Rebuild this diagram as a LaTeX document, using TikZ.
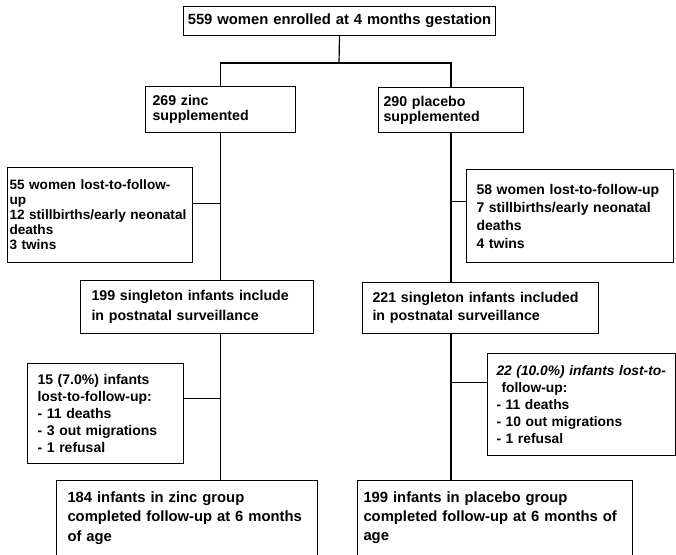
\documentclass[tikz,border=0pt]{standalone}
\usepackage{fontspec}
\setmainfont{Liberation Sans}
\tikzset{
  box/.style={draw, line width=1pt, anchor=north west, align=left, inner ysep=0pt,
    execute at begin node={\hyphenpenalty=10000\relax},
    font=\bfseries\fontsize{14.2}{17}\selectfont},
  link/.style={line width=1.2pt},
}

\begin{document}
\begin{tikzpicture}[x=1pt,y=-1pt]
    \useasboundingbox (0,0) rectangle (676,554);
    % randomisation
    \node[box, align=center, minimum width=312pt, minimum height=29pt, inner xsep=1pt, text width=310pt,
      font=\bfseries\fontsize{14.8}{17}\selectfont] (enrol) at (183,6)
      {559 women enrolled at 4 months gestation};
    \node[box, minimum width=150pt, minimum height=46pt, inner xsep=7pt, text width=136pt,
      font=\bfseries\fontsize{14.2}{15}\selectfont] (zinc) at (145,86)
      {269 zinc\\supplemented};
    \node[box, minimum width=145pt, minimum height=45pt, inner xsep=5pt, text width=135pt,
      font=\bfseries\fontsize{14.2}{15}\selectfont] (placebo) at (378,87)
      {290 placebo\\supplemented};
    % losses in pregnancy
    \node[box, minimum width=185pt, minimum height=95pt, inner xsep=2pt, text width=181pt,
      font=\bfseries\fontsize{13.6}{15}\selectfont] (lost55) at (7,167)
      {55 women lost-to-follow-\\up\\12 stillbirths/early neonatal\\deaths\\3 twins};
    \node[box, minimum width=207pt, minimum height=93pt, inner xsep=10pt, text width=187pt,
      font=\bfseries\fontsize{14}{18}\selectfont] (lost58) at (466,169)
      {58 women lost-to-follow-up\\7 stillbirths/early neonatal\\deaths\\4 twins};
    % singletons
    \node[box, minimum width=233pt, minimum height=53pt, inner xsep=11pt, text width=211pt,
      font=\bfseries\fontsize{14.2}{20}\selectfont] (sing199) at (80,280)
      {199 singleton infants include\\in postnatal surveillance};
    \node[box, minimum width=236pt, minimum height=51pt, inner xsep=10pt, text width=216pt,
      font=\bfseries\fontsize{14.2}{18}\selectfont] (sing221) at (362,282)
      {221 singleton infants included\\in postnatal surveillance};
    % losses in infancy
    \node[box, minimum width=156pt, minimum height=100pt, inner xsep=10pt, text width=136pt,
      font=\bfseries\fontsize{14}{17}\selectfont] (lost15) at (27,363)
      {15 (7.0\%) infants\\lost-to-follow-up:\\- 11 deaths\\- 3 out migrations\\- 1 refusal};
    \node[box, minimum width=188pt, minimum height=102pt, inner xsep=9pt, text width=170pt,
      font=\bfseries\fontsize{13.8}{17}\selectfont] (lost22) at (487,353)
      {{\itshape 22 (10.0\%) infants lost-to-}\\\hspace*{5pt}follow-up:\\- 11 deaths\\- 10 out migrations\\- 1 refusal};
    % completed
    \node[box, minimum width=261pt, inner xsep=11pt, inner ysep=11pt, text width=239pt, text depth=70pt,
      font=\bfseries\fontsize{14.8}{19.5}\selectfont] (done184) at (56,480)
      {184 infants in zinc group\\completed follow-up at 6 months\\of age};
    \node[box, minimum width=275pt, inner xsep=6pt, inner ysep=11pt, text width=263pt, text depth=70pt,
      font=\bfseries\fontsize{14.8}{19}\selectfont] (done199) at (357,480)
      {199 infants in placebo group\\completed follow-up at 6 months of\\age};
    % connectors
    \coordinate (split) at (339,63);
    \draw[link] (enrol.south) -- (split);
    \draw[link] (zinc.north) |- (split) -| (placebo.north);
    \draw[link] (zinc.south) -- (zinc.south |- sing199.north);
    \draw[link] (lost55.7) -- (lost55.7 -| zinc.south);
    \draw[link] (placebo.south) -- (placebo.south |- sing221.north);
    \draw[link] (lost58.172) -- (lost58.172 -| placebo.south);
    \draw[link] (sing199.south -| zinc.south) -- (done184.north -| zinc.south);
    \draw[link] (lost15.11) -- (lost15.11 -| zinc.south);
    \draw[link] (sing221.south -| placebo.south) -- (done199.north -| placebo.south);
    \draw[link] (lost22.167) -- (lost22.167 -| placebo.south);
\end{tikzpicture}
\end{document}
